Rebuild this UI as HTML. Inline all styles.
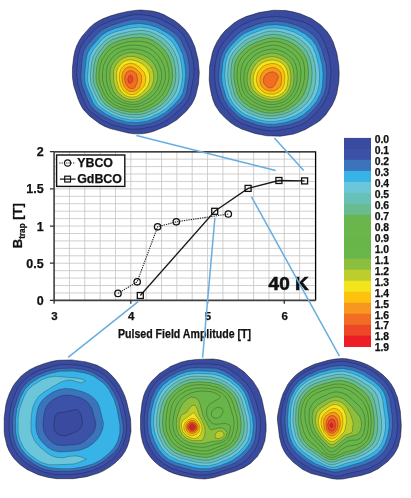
<!DOCTYPE html>
<html><head><meta charset="utf-8"><style>
html,body{margin:0;padding:0;background:#fff;width:411px;height:498px;overflow:hidden}
svg{display:block;will-change:transform}
text{font-family:"Liberation Sans",sans-serif;fill:#111;stroke:#111;stroke-width:0.25px}
</style></head><body>
<svg width="411" height="498" viewBox="0 0 411 498" font-family="Liberation Sans, sans-serif">
<rect width="411" height="498" fill="#fff"/>
<path d="M141.7 133.8 134.1 133.8 128.1 133.0 110.1 128.6 104.3 126.2 99.3 123.4 89.7 116.2 83.3 109.4 80.5 104.6 78.1 99.0 73.7 85.7 72.5 77.8 72.4 72.6 72.5 67.2 73.7 56.8 74.9 51.0 76.5 46.2 79.3 40.5 82.1 36.2 89.8 27.4 94.1 23.8 98.5 21.0 103.3 18.6 110.7 15.8 118.8 13.4 127.9 11.4 136.7 10.2 141.3 10.0 152.2 11.0 158.5 12.6 163.7 14.6 174.5 20.6 179.3 24.2 184.5 29.0 188.1 33.4 190.9 37.9 194.9 46.9 198.1 59.8 199.3 72.6 198.5 83.8 195.7 95.6 194.1 99.8 191.7 104.2 186.5 111.0 176.9 119.8 167.1 125.8 153.3 131.4 147.1 133.0 141.7 133.8Z" fill="#3a4a9e" fill-rule="evenodd" stroke="rgba(0,0,0,0.75)" stroke-width="0.6"/>
<path d="M139.7 129.0 133.7 129.2 128.1 128.8 112.1 124.7 102.5 120.1 91.7 112.6 88.2 109.0 85.8 105.4 80.5 93.0 77.7 83.8 76.7 73.0 78.0 57.0 79.9 49.0 81.9 45.0 84.5 41.0 94.1 30.2 97.4 27.4 101.3 25.0 111.7 20.6 127.3 16.0 133.3 14.9 138.5 14.5 149.7 15.7 159.7 18.6 170.9 24.6 176.1 28.1 180.1 31.5 182.8 34.6 185.1 38.2 190.6 50.6 193.0 59.8 194.1 70.2 193.5 77.4 190.3 94.2 187.9 100.2 184.1 105.4 171.0 117.4 163.3 122.6 158.5 124.8 152.5 126.8 139.7 129.0Z" fill="#3c52a8" fill-rule="evenodd" stroke="rgba(0,0,0,0.58)" stroke-width="0.42"/>
<path d="M139.3 125.4 133.3 125.7 128.5 125.4 116.5 122.4 106.5 118.0 99.7 114.0 94.9 110.6 90.6 105.8 87.4 99.4 82.2 85.8 81.2 81.0 80.8 75.4 82.2 57.4 83.7 51.0 87.3 44.9 97.3 33.7 102.9 29.2 110.9 25.5 126.1 20.7 131.7 19.5 136.9 19.0 146.9 20.0 157.7 23.0 168.1 28.4 176.7 34.6 180.9 40.2 186.6 52.6 188.5 60.2 189.7 70.6 189.2 77.4 186.7 92.2 184.8 97.4 181.7 101.8 168.1 114.2 160.7 119.4 150.5 123.4 139.3 125.4Z" fill="#3b74bb" fill-rule="evenodd" stroke="rgba(0,0,0,0.58)" stroke-width="0.42"/>
<path d="M136.9 122.6 126.9 121.9 115.7 118.8 106.5 114.4 97.3 108.0 94.6 105.0 92.8 102.2 86.6 87.8 85.0 81.8 84.6 75.0 86.3 58.2 87.7 52.8 91.0 47.4 100.9 36.1 106.9 31.7 114.9 28.4 129.3 24.5 139.3 23.5 148.5 24.7 157.3 27.5 167.3 33.1 171.3 35.9 174.1 38.5 178.6 45.4 182.8 54.6 184.9 65.0 185.7 74.6 184.5 85.4 182.5 93.4 179.6 98.6 173.7 105.0 165.7 112.2 157.3 117.2 146.9 121.2 136.9 122.6Z" fill="#38b3e7" fill-rule="evenodd" stroke="rgba(0,0,0,0.58)" stroke-width="0.42"/>
<path d="M140.9 119.8 130.5 119.9 120.1 117.7 110.9 114.0 101.1 107.8 97.2 103.8 94.3 98.6 88.8 85.8 87.8 81.4 87.5 77.0 88.8 62.2 90.5 55.0 94.2 48.6 102.1 39.3 107.8 35.0 115.3 31.8 128.5 28.4 139.3 27.1 147.7 27.9 155.7 30.4 164.5 35.4 171.3 41.0 175.8 47.4 179.5 55.4 181.4 63.8 182.5 74.2 181.9 82.6 180.1 90.6 177.4 96.2 173.3 101.4 166.4 108.2 159.7 112.8 149.3 117.7 140.9 119.8Z" fill="#6cc6d9" fill-rule="evenodd" stroke="rgba(0,0,0,0.58)" stroke-width="0.42"/>
<path d="M138.9 117.4 129.3 117.1 119.3 114.9 111.2 111.4 102.8 105.8 100.3 103.4 98.3 100.6 92.4 87.8 90.7 82.2 90.2 75.8 91.6 62.6 93.3 56.2 97.6 49.0 104.5 41.1 110.5 37.0 118.1 34.2 131.3 31.2 141.3 30.3 148.9 31.4 156.0 34.2 164.1 39.4 169.7 44.7 173.9 51.0 176.8 57.8 178.7 67.8 179.2 76.6 178.3 84.2 176.1 91.4 172.9 97.0 167.3 103.5 161.7 108.2 154.5 112.4 146.1 115.9 138.9 117.4Z" fill="#66c1b8" fill-rule="evenodd" stroke="rgba(0,0,0,0.58)" stroke-width="0.42"/>
<path d="M139.7 114.6 130.5 114.6 120.9 112.7 113.3 109.7 105.3 104.4 100.9 99.4 95.2 87.4 93.5 82.2 93.0 76.2 94.2 64.6 95.9 57.8 99.9 51.0 106.1 43.7 111.7 40.0 119.3 37.2 130.9 34.6 140.9 33.7 147.7 34.6 154.5 37.3 161.7 42.2 167.3 47.7 171.1 53.4 173.6 59.4 175.3 67.8 175.9 76.2 175.1 83.0 173.0 89.8 170.0 95.4 165.3 101.3 160.5 105.6 154.5 109.2 146.1 113.0 139.7 114.6Z" fill="#68bc90" fill-rule="evenodd" stroke="rgba(0,0,0,0.58)" stroke-width="0.42"/>
<path d="M138.1 112.2 129.7 112.0 120.5 110.0 113.7 107.0 106.9 102.3 103.1 97.8 97.7 86.2 96.2 81.0 95.9 75.4 97.1 65.4 98.9 59.0 102.9 52.2 108.2 46.2 113.7 42.7 122.1 39.8 131.3 37.9 140.5 37.4 146.9 38.3 152.9 40.6 159.3 45.0 164.8 50.6 168.3 55.8 170.6 61.4 172.2 69.4 172.6 76.6 171.7 83.0 169.5 89.4 166.5 95.0 162.3 100.2 157.6 104.2 151.3 107.8 144.1 110.9 138.1 112.2Z" fill="#69b54e" fill-rule="evenodd" stroke="rgba(0,0,0,0.58)" stroke-width="0.42"/>
<path d="M134.9 109.8 127.7 109.3 119.7 107.2 113.3 103.8 107.7 99.4 104.7 95.0 100.1 84.2 99.0 79.0 99.1 72.6 100.2 65.0 102.3 59.4 106.7 52.6 111.3 48.1 117.0 45.0 125.3 42.4 132.9 41.3 141.3 41.3 147.3 42.5 152.5 44.8 158.1 49.0 162.4 53.8 165.6 59.0 167.6 64.2 169.0 71.4 169.1 77.8 167.9 83.4 165.1 90.2 162.1 95.0 158.1 99.5 152.9 103.4 145.7 107.1 140.1 109.1 134.9 109.8Z" fill="#6ab64b" fill-rule="evenodd" stroke="rgba(0,0,0,0.58)" stroke-width="0.42"/>
<path d="M136.1 107.0 130.1 106.9 122.9 105.4 117.4 103.0 111.7 99.2 108.9 96.3 107.0 93.0 103.7 85.0 102.5 79.4 102.4 73.0 103.5 65.8 105.4 61.0 108.7 55.8 112.5 51.8 116.5 49.1 122.9 46.6 128.9 45.3 135.7 45.1 142.9 46.0 148.1 47.6 152.5 50.2 157.3 54.6 161.3 60.0 163.9 65.8 165.4 72.6 165.4 77.8 164.4 82.6 161.4 89.8 158.1 94.6 153.7 98.9 148.8 102.2 141.7 105.6 136.1 107.0Z" fill="#68b54a" fill-rule="evenodd" stroke="rgba(0,0,0,0.58)" stroke-width="0.42"/>
<path d="M133.7 104.6 128.1 104.1 122.9 102.6 118.2 100.2 113.3 96.5 110.8 93.4 108.7 88.6 107.0 83.4 106.3 78.2 106.4 71.8 107.2 66.6 109.1 62.2 112.1 57.9 115.7 54.4 119.7 51.9 124.9 49.9 130.1 49.0 136.1 49.2 142.5 50.4 147.3 52.2 151.3 54.8 155.6 59.0 158.5 63.4 160.8 69.0 161.8 74.6 161.5 79.4 159.9 84.6 157.5 89.8 154.1 94.1 149.4 98.2 142.7 102.2 138.1 104.0 133.7 104.6Z" fill="#6ab64a" fill-rule="evenodd" stroke="rgba(0,0,0,0.58)" stroke-width="0.42"/>
<path d="M135.7 101.9 130.9 102.1 126.1 101.2 122.1 99.4 117.5 96.2 115.0 93.8 113.3 91.1 111.3 85.8 110.3 81.4 109.9 75.8 110.2 70.2 111.1 66.6 113.0 63.0 116.1 59.1 119.3 56.4 123.7 54.1 128.5 52.8 132.9 52.6 138.1 53.4 143.3 55.1 147.5 57.4 151.3 60.6 154.2 64.2 156.4 68.6 157.6 73.0 157.8 77.0 157.2 81.0 155.2 86.6 153.1 90.2 149.3 94.2 145.3 97.2 140.1 100.3 135.7 101.9Z" fill="#8dbf3e" fill-rule="evenodd" stroke="rgba(0,0,0,0.58)" stroke-width="0.42"/>
<path d="M134.9 99.4 130.9 99.6 126.9 98.8 123.7 97.3 120.2 94.6 117.9 92.2 116.4 89.8 114.6 85.0 113.7 81.0 113.5 71.8 114.2 68.6 115.7 65.4 118.1 62.1 121.2 59.4 124.9 57.4 128.5 56.4 132.5 56.4 136.5 57.1 141.3 58.9 145.1 61.0 148.5 63.8 150.9 66.7 152.7 70.2 153.6 73.8 153.8 77.8 153.4 81.4 151.9 85.8 150.4 88.6 146.9 92.4 142.5 95.8 138.5 98.2 134.9 99.4Z" fill="#bccd2d" fill-rule="evenodd" stroke="rgba(0,0,0,0.58)" stroke-width="0.42"/>
<path d="M134.1 97.0 130.9 97.1 127.7 96.4 125.3 95.3 122.4 93.0 119.2 88.6 116.8 80.6 116.6 73.0 117.2 70.2 118.4 67.4 120.5 64.5 122.9 62.3 125.7 60.8 128.5 60.0 131.7 59.9 135.3 60.7 138.9 62.1 142.5 64.2 145.4 66.6 147.3 68.9 148.8 71.8 149.5 74.6 149.8 78.2 149.4 81.4 148.3 85.0 147.0 87.4 143.9 91.0 139.3 95.0 136.9 96.2 134.1 97.0Z" fill="#f2e51b" fill-rule="evenodd" stroke="rgba(0,0,0,0.58)" stroke-width="0.42"/>
<path d="M132.9 94.6 130.5 94.6 128.1 94.0 123.7 90.8 121.2 86.6 119.4 80.2 119.3 73.8 120.9 69.2 122.5 66.9 124.5 65.1 128.9 63.4 131.7 63.4 134.5 64.0 139.3 66.9 144.0 72.2 145.7 77.0 145.5 82.2 144.6 85.0 143.4 87.0 137.9 92.6 135.3 94.0 132.9 94.6Z" fill="#fdc10e" fill-rule="evenodd" stroke="rgba(0,0,0,0.58)" stroke-width="0.42"/>
<path d="M133.7 91.5 129.7 91.5 126.5 89.7 124.1 86.6 122.2 81.4 121.9 75.8 122.8 71.8 125.3 68.4 128.5 66.8 132.1 67.0 135.7 68.8 139.3 72.0 141.7 75.8 141.5 81.8 139.4 87.8 136.7 90.2 133.7 91.5Z" fill="#f7971f" fill-rule="evenodd" stroke="rgba(0,0,0,0.58)" stroke-width="0.42"/>
<path d="M133.3 88.6 130.5 88.6 128.1 87.3 126.3 85.0 125.0 81.8 124.6 78.2 125.1 75.0 126.7 72.2 128.9 70.8 131.3 70.7 133.7 71.7 136.4 73.8 136.9 75.4 137.5 79.4 137.2 82.6 135.2 87.0 134.4 88.2 133.3 88.6Z" fill="#f26c23" fill-rule="evenodd" stroke="rgba(0,0,0,0.58)" stroke-width="0.42"/>
<path d="M130.9 83.1 129.7 83.2 128.5 82.4 127.9 79.4 128.6 76.6 129.7 75.5 130.9 75.2 132.1 76.5 132.7 79.4 132.2 81.8 130.9 83.1Z" fill="#ed4727" fill-rule="evenodd" stroke="rgba(0,0,0,0.58)" stroke-width="0.42"/>
<path d="M280.4 136.2 266.7 135.8 254.7 133.4 241.6 129.0 235.2 125.8 230.4 122.5 225.0 117.8 220.0 112.6 215.2 105.4 213.2 100.6 211.6 95.0 210.0 87.0 209.2 80.2 209.6 66.0 212.4 52.6 214.4 47.1 217.2 41.4 221.2 35.3 225.2 30.6 234.0 23.0 239.2 19.8 246.0 16.6 259.0 12.6 273.6 10.2 286.0 10.6 292.8 11.8 300.3 13.8 311.6 18.6 320.8 25.0 327.2 31.8 330.4 36.6 333.2 42.1 336.8 53.0 338.8 65.2 339.2 73.8 338.8 82.2 336.8 93.4 334.8 99.4 332.0 105.4 325.6 115.0 320.4 120.2 317.2 122.6 305.5 129.4 298.0 132.6 292.8 134.2 280.4 136.2Z" fill="#3a4a9e" fill-rule="evenodd" stroke="rgba(0,0,0,0.75)" stroke-width="0.6"/>
<path d="M276.4 130.6 271.6 130.9 266.4 130.6 253.6 127.7 241.9 123.4 237.6 120.9 233.6 117.7 223.8 107.0 219.4 99.8 217.3 93.8 215.7 87.4 214.9 81.0 214.6 73.8 214.9 67.4 215.7 61.4 217.4 54.6 219.2 49.4 224.0 41.7 233.7 31.0 237.6 27.8 242.0 25.0 253.6 20.0 264.0 17.4 276.4 16.5 286.0 17.5 303.2 21.9 310.0 25.2 316.6 30.6 319.6 34.0 322.1 37.8 326.8 48.2 329.8 60.2 331.0 71.4 329.9 85.8 328.1 93.8 323.6 103.4 317.1 111.8 307.4 121.0 301.2 124.8 291.6 127.9 276.4 130.6Z" fill="#3c52a8" fill-rule="evenodd" stroke="rgba(0,0,0,0.58)" stroke-width="0.42"/>
<path d="M276.4 127.0 267.2 127.1 257.6 125.2 244.0 120.3 240.0 118.1 236.5 115.4 227.9 106.2 223.7 99.4 219.8 87.0 218.8 81.4 218.5 75.8 219.7 62.6 221.0 57.0 222.7 52.2 227.2 44.9 236.4 35.2 240.4 31.9 244.4 29.4 256.4 24.4 265.6 22.0 276.4 21.1 286.4 22.3 298.4 25.8 306.8 30.0 314.0 35.8 318.5 41.8 322.1 49.8 325.8 63.4 326.8 73.0 326.0 86.5 324.4 93.4 320.2 101.8 314.0 109.5 306.0 117.3 299.6 121.3 289.2 124.8 276.4 127.0Z" fill="#3b74bb" fill-rule="evenodd" stroke="rgba(0,0,0,0.58)" stroke-width="0.42"/>
<path d="M274.4 124.2 265.6 123.9 256.8 121.9 244.4 117.2 240.8 115.0 237.6 112.4 230.1 104.2 226.4 97.8 222.7 85.4 221.9 80.2 221.7 75.0 222.9 62.2 225.4 53.8 229.8 47.0 238.0 38.4 242.0 35.1 245.6 32.8 258.4 27.5 266.8 25.3 276.0 24.7 286.4 26.1 296.4 29.2 304.8 33.8 312.0 39.8 316.2 45.8 319.3 53.8 322.4 65.8 323.1 75.4 322.4 86.6 320.7 93.4 316.5 101.4 310.4 108.7 303.2 115.0 296.4 118.8 285.6 122.4 274.4 124.2Z" fill="#38b3e7" fill-rule="evenodd" stroke="rgba(0,0,0,0.58)" stroke-width="0.42"/>
<path d="M274.8 121.4 266.8 121.4 258.8 119.7 246.4 115.1 242.8 113.0 239.7 110.6 233.0 103.4 229.4 97.4 225.7 85.4 224.7 76.2 225.5 64.2 227.4 56.6 231.0 50.2 237.9 42.6 244.0 37.5 250.8 34.0 264.0 29.1 268.8 28.2 274.0 27.8 283.2 28.8 294.0 32.0 301.6 36.1 308.9 42.2 312.9 47.4 315.8 54.2 318.7 65.4 319.6 74.6 319.1 84.6 317.5 91.8 314.2 99.0 309.2 105.4 302.0 111.8 294.8 116.0 284.8 119.6 274.8 121.4Z" fill="#6cc6d9" fill-rule="evenodd" stroke="rgba(0,0,0,0.58)" stroke-width="0.42"/>
<path d="M274.8 118.6 266.8 118.7 259.2 117.0 247.6 112.6 241.2 108.2 235.5 102.2 232.2 96.6 228.7 84.6 227.6 76.2 228.3 65.4 229.9 58.2 233.2 52.2 238.9 45.8 244.8 40.6 250.8 37.4 264.0 32.4 268.4 31.4 273.2 31.0 281.2 31.8 292.2 35.0 299.2 38.8 306.0 44.5 309.8 49.4 312.7 55.8 315.0 65.0 315.9 73.8 315.4 83.0 313.8 90.6 310.9 97.4 306.8 103.0 300.0 109.1 292.4 113.7 284.0 116.9 274.8 118.6Z" fill="#66c1b8" fill-rule="evenodd" stroke="rgba(0,0,0,0.58)" stroke-width="0.42"/>
<path d="M274.4 115.8 266.8 115.8 259.2 114.1 248.6 109.8 242.0 105.0 237.3 99.8 234.7 95.0 231.7 83.8 230.8 75.4 231.3 65.4 232.9 59.0 236.0 53.6 241.6 47.5 246.8 43.2 252.6 40.2 265.2 35.5 273.2 34.3 280.4 35.1 290.0 38.0 296.4 41.4 302.8 46.7 306.8 51.6 309.5 57.4 311.4 65.0 312.1 73.0 311.6 81.4 309.9 89.4 307.2 96.1 303.5 101.4 297.3 107.0 290.0 111.5 282.8 114.3 274.4 115.8Z" fill="#68bc90" fill-rule="evenodd" stroke="rgba(0,0,0,0.58)" stroke-width="0.42"/>
<path d="M274.8 113.0 267.2 113.1 260.4 111.5 250.4 107.3 243.7 102.6 239.7 98.2 237.3 93.4 234.7 83.4 233.9 75.8 234.3 67.0 235.7 61.0 238.5 55.8 243.5 50.2 248.8 45.9 254.4 43.0 265.6 39.0 273.2 37.7 279.6 38.4 287.8 41.0 294.0 44.3 299.6 48.8 303.5 53.4 306.2 58.6 307.8 64.6 308.5 71.8 308.0 79.8 306.3 87.8 303.6 94.5 300.1 99.8 294.7 105.0 288.4 109.1 282.4 111.5 274.8 113.0Z" fill="#69b54e" fill-rule="evenodd" stroke="rgba(0,0,0,0.58)" stroke-width="0.42"/>
<path d="M274.4 110.2 267.6 110.2 260.8 108.5 251.8 104.6 245.3 99.8 242.0 96.1 239.9 91.8 237.8 83.4 237.0 76.2 237.5 68.2 238.8 62.6 241.4 57.8 246.1 52.6 251.2 48.5 257.2 45.5 266.8 42.2 273.6 41.2 279.2 41.9 286.0 44.2 291.7 47.4 296.8 51.5 300.4 55.7 302.8 60.3 304.2 65.4 304.7 71.8 304.3 79.4 302.7 86.6 300.1 93.0 296.5 98.6 292.0 103.1 286.4 106.9 281.0 109.0 274.4 110.2Z" fill="#6ab64b" fill-rule="evenodd" stroke="rgba(0,0,0,0.58)" stroke-width="0.42"/>
<path d="M273.6 107.4 267.2 107.2 261.2 105.5 253.6 101.9 247.5 97.4 244.6 94.2 242.7 90.2 241.0 83.4 240.4 77.0 241.0 69.8 242.4 64.2 244.9 59.8 249.2 55.0 254.0 51.1 259.6 48.4 267.2 45.9 273.6 45.0 278.8 45.8 284.8 48.0 290.0 51.1 294.4 54.9 297.3 58.6 299.5 63.0 300.6 67.8 301.0 73.4 300.5 80.2 299.1 86.6 296.7 92.2 293.4 97.4 289.3 101.4 284.4 104.6 279.6 106.4 273.6 107.4Z" fill="#68b54a" fill-rule="evenodd" stroke="rgba(0,0,0,0.58)" stroke-width="0.42"/>
<path d="M273.2 104.6 267.6 104.3 261.6 102.5 255.6 99.5 250.1 95.4 247.6 92.6 245.7 89.0 244.3 83.4 243.8 78.2 244.4 71.8 245.8 66.6 248.2 62.2 252.3 57.4 256.4 54.1 261.2 51.6 267.6 49.7 273.2 49.1 277.6 49.7 283.2 51.8 287.7 54.6 291.7 58.2 294.3 61.8 295.9 65.4 296.9 69.8 297.3 75.8 296.8 81.8 295.8 86.6 293.5 91.8 290.8 95.9 287.6 99.0 282.8 102.1 278.4 103.7 273.2 104.6Z" fill="#6ab64a" fill-rule="evenodd" stroke="rgba(0,0,0,0.58)" stroke-width="0.42"/>
<path d="M274.8 101.8 270.0 101.9 265.6 101.1 260.0 98.9 255.6 96.2 251.6 92.6 249.6 89.8 247.9 85.4 247.1 80.6 247.3 75.4 248.6 69.8 250.7 65.4 253.6 61.4 257.2 58.1 261.2 55.7 266.0 54.0 271.2 53.1 275.2 53.3 279.6 54.5 284.0 56.6 287.6 59.3 290.2 62.2 292.0 65.4 293.3 69.4 293.9 73.8 294.0 79.4 293.3 84.6 291.8 89.0 289.6 93.1 286.9 96.2 283.1 99.0 279.2 100.8 274.8 101.8Z" fill="#8dbf3e" fill-rule="evenodd" stroke="rgba(0,0,0,0.58)" stroke-width="0.42"/>
<path d="M274.4 99.4 270.4 99.5 266.4 98.7 261.6 96.9 258.0 94.7 254.4 91.5 252.4 89.0 251.0 85.4 250.2 81.0 250.4 76.2 251.5 71.4 253.3 67.4 255.9 63.8 258.9 61.0 262.4 58.9 266.4 57.4 271.2 56.6 274.8 56.8 278.8 57.9 282.4 59.6 285.3 61.8 287.6 64.3 289.3 67.4 290.3 71.0 290.9 75.0 290.9 80.2 290.3 84.6 289.2 88.2 287.3 91.8 284.8 94.6 281.6 96.9 278.0 98.5 274.4 99.4Z" fill="#bccd2d" fill-rule="evenodd" stroke="rgba(0,0,0,0.58)" stroke-width="0.42"/>
<path d="M273.2 97.0 270.0 97.0 266.4 96.2 262.4 94.6 259.2 92.4 256.4 89.8 254.9 87.4 253.6 83.8 253.1 80.2 253.4 76.2 254.5 72.2 256.1 69.0 258.5 65.8 261.2 63.4 264.4 61.7 268.0 60.5 272.0 60.0 275.2 60.3 278.8 61.4 281.6 62.9 284.0 65.0 285.7 67.4 287.0 70.2 288.1 77.4 287.4 85.0 286.2 88.2 284.6 91.0 282.4 93.2 279.2 95.3 276.4 96.4 273.2 97.0Z" fill="#f2e51b" fill-rule="evenodd" stroke="rgba(0,0,0,0.58)" stroke-width="0.42"/>
<path d="M274.0 94.2 268.4 94.0 264.8 92.8 262.0 91.2 258.1 87.0 256.3 81.0 256.4 77.8 257.2 74.2 258.5 71.4 260.5 68.6 262.6 66.6 265.3 65.0 271.6 63.3 276.8 64.1 280.9 66.6 283.7 70.6 284.8 75.8 284.5 83.4 282.6 88.6 280.9 90.6 278.8 92.2 274.0 94.2Z" fill="#fdc10e" fill-rule="evenodd" stroke="rgba(0,0,0,0.58)" stroke-width="0.42"/>
<path d="M274.0 91.0 269.2 91.1 264.4 89.2 261.2 85.8 259.9 81.4 260.4 76.2 262.8 72.0 266.5 69.0 271.6 67.4 275.2 67.8 278.6 69.8 280.7 72.6 281.7 76.6 281.6 82.2 280.3 86.2 277.9 89.0 274.0 91.0Z" fill="#f7971f" fill-rule="evenodd" stroke="rgba(0,0,0,0.58)" stroke-width="0.42"/>
<path d="M271.6 87.8 268.6 87.8 266.0 86.1 263.6 82.9 263.4 79.8 264.2 76.6 266.1 74.2 269.2 72.4 272.4 71.8 274.4 72.2 276.4 73.4 277.9 75.4 278.4 77.4 275.2 84.6 273.2 86.8 271.6 87.8Z" fill="#f26c23" fill-rule="evenodd" stroke="rgba(0,0,0,0.58)" stroke-width="0.42"/>
<path d="M73.4 478.7 57.0 478.7 48.5 477.5 38.2 474.7 27.0 469.5 20.2 464.7 14.2 458.7 11.8 455.5 9.0 450.7 7.0 445.9 4.6 435.6 4.2 431.5 4.2 418.1 5.8 405.3 7.0 400.3 9.4 393.5 13.0 386.3 15.4 382.7 21.0 376.3 25.3 372.7 30.2 369.5 35.8 366.7 43.2 363.9 51.4 361.5 57.7 360.3 71.5 359.9 86.1 361.9 96.6 365.1 102.2 367.9 107.0 371.1 111.4 375.1 115.8 379.9 119.4 385.1 122.2 390.2 124.6 395.5 126.6 401.6 130.6 418.9 131.0 431.2 129.0 441.6 127.4 446.4 125.0 451.5 121.4 456.7 119.0 459.3 115.0 463.1 109.7 467.1 103.0 471.1 98.5 473.1 86.7 476.7 73.4 478.7Z" fill="#3a4a9e" fill-rule="evenodd" stroke="rgba(0,0,0,0.75)" stroke-width="0.6"/>
<path d="M68.2 474.7 55.4 474.4 44.2 472.2 33.8 468.0 24.6 462.0 17.7 455.1 12.9 447.1 10.0 437.9 8.9 427.1 9.5 413.9 12.1 401.5 16.6 390.3 19.3 385.9 22.5 381.9 26.2 378.4 30.6 375.1 40.2 370.1 53.8 366.0 59.8 364.9 65.8 364.5 79.0 365.3 90.6 367.9 100.4 372.3 104.6 375.2 108.2 378.4 115.1 387.1 118.3 392.7 120.7 397.9 122.8 404.3 125.0 413.5 126.3 420.3 126.8 426.3 125.9 435.9 122.5 446.3 118.2 453.4 111.8 459.7 102.6 466.2 93.0 470.5 82.2 473.2 68.2 474.7ZM66.6 435.5 77.0 431.4 80.2 428.8 81.7 426.3 82.5 422.3 81.5 415.9 79.8 411.9 77.4 409.9 74.6 409.6 66.6 411.7 59.0 412.6 57.0 413.6 55.4 415.8 54.6 418.7 53.8 425.5 54.1 428.7 55.1 431.5 57.0 433.7 59.8 435.3 63.4 435.9 66.6 435.5Z" fill="#3c52a8" fill-rule="evenodd" stroke="rgba(0,0,0,0.58)" stroke-width="0.42"/>
<path d="M68.6 471.5 54.6 471.3 44.6 469.4 39.8 467.6 35.0 465.1 25.2 457.9 19.0 450.9 16.6 446.7 14.8 442.3 12.6 432.7 12.3 420.7 13.8 409.1 17.6 397.1 21.8 388.3 27.4 382.0 31.8 378.6 37.0 375.4 47.4 371.2 59.0 368.6 72.6 368.1 83.4 369.4 92.4 372.3 102.1 377.9 108.4 383.9 114.4 393.1 118.6 402.6 122.6 420.7 123.5 430.3 121.9 439.1 118.3 447.5 113.8 453.0 104.9 460.3 97.9 464.7 89.4 468.1 79.0 470.4 68.6 471.5ZM62.7 445.5 75.2 444.7 79.0 443.9 82.2 442.6 85.8 440.2 91.3 435.1 93.5 432.3 95.1 428.7 95.8 425.5 95.7 422.7 92.5 410.3 91.2 407.1 89.1 403.9 86.2 401.1 83.0 399.0 79.0 397.3 72.6 395.7 67.8 395.1 63.8 395.3 59.4 396.5 54.6 398.7 50.2 401.9 47.0 405.5 45.1 409.5 43.7 415.9 43.0 424.7 43.5 429.5 45.0 433.9 48.2 438.8 53.0 443.1 57.4 445.0 62.7 445.5Z" fill="#3b74bb" fill-rule="evenodd" stroke="rgba(0,0,0,0.58)" stroke-width="0.42"/>
<path d="M71.0 468.7 59.0 468.7 49.0 467.5 41.4 465.1 34.1 461.1 26.6 455.2 21.2 448.7 17.6 441.1 15.7 432.3 15.5 419.9 16.8 409.1 20.3 397.9 25.0 389.1 31.0 382.9 39.8 377.3 49.8 373.4 60.2 371.3 73.0 371.1 85.0 373.0 89.8 374.5 94.2 376.6 102.9 382.7 106.2 386.1 109.0 389.8 114.1 399.5 117.0 409.1 119.8 424.3 119.9 432.7 117.8 441.1 114.2 447.7 108.3 453.9 100.8 459.9 93.0 463.9 82.2 467.1 71.0 468.7ZM68.9 451.5 77.4 450.7 83.0 449.3 88.2 446.9 93.4 443.2 97.5 439.1 100.3 434.7 102.9 428.3 103.4 423.1 99.2 405.9 97.0 401.7 93.6 397.9 88.6 394.3 82.6 391.7 72.2 389.0 65.4 388.4 59.0 389.6 52.6 392.3 46.2 396.5 41.6 401.1 39.0 405.4 37.3 410.3 36.0 419.1 35.8 426.7 36.8 432.7 39.0 437.9 42.6 442.7 47.8 447.4 52.2 450.0 56.6 451.5 61.4 451.9 68.9 451.5Z" fill="#38b3e7" fill-rule="evenodd" stroke="rgba(0,0,0,0.58)" stroke-width="0.42"/>
<path d="M58.2 464.7 48.6 464.7 41.8 462.6 37.0 459.8 31.0 455.4 27.0 451.7 23.9 447.9 20.0 440.3 18.1 431.9 18.1 418.7 19.4 409.1 24.0 396.7 27.5 390.3 32.6 385.5 42.2 379.6 48.6 377.2 55.4 376.3 75.4 378.0 80.6 378.9 84.5 380.3 85.3 380.7 85.3 381.1 82.2 382.6 80.6 382.8 72.2 380.2 67.0 380.1 61.0 382.1 52.6 386.7 43.4 392.5 38.8 396.3 35.0 401.7 32.6 407.9 31.6 413.9 30.9 421.9 31.1 430.7 32.3 435.5 34.0 439.5 36.4 443.1 39.8 446.9 47.8 453.6 51.8 455.8 55.8 457.2 62.2 457.9 69.9 456.3 76.2 455.9 80.3 456.7 86.5 459.1 77.8 462.7 73.4 464.0 58.2 464.7Z" fill="#6cc6d9" fill-rule="evenodd" stroke="rgba(0,0,0,0.58)" stroke-width="0.42"/>
<path d="M204.9 479.0 197.3 478.6 191.9 477.8 180.5 475.4 173.8 473.4 168.9 471.4 163.6 468.6 158.9 465.4 154.3 461.4 151.3 458.2 147.7 453.3 144.9 448.3 142.9 443.1 141.3 436.3 140.5 429.1 140.5 416.0 142.1 402.5 143.7 395.8 145.3 391.4 148.5 385.4 151.7 381.0 159.6 373.4 171.0 366.2 180.9 362.2 187.7 360.6 196.6 359.4 213.0 359.0 218.9 359.8 225.2 361.4 230.5 363.4 236.1 366.2 244.1 371.8 252.9 381.0 258.5 389.9 261.7 398.5 265.3 415.5 266.1 423.7 266.1 430.6 264.9 440.6 262.1 448.7 257.3 456.6 250.5 463.4 244.2 467.4 235.7 471.0 213.4 477.8 204.9 479.0Z" fill="#3a4a9e" fill-rule="evenodd" stroke="rgba(0,0,0,0.75)" stroke-width="0.6"/>
<path d="M204.9 475.0 194.9 474.6 183.3 472.0 171.3 468.1 163.3 463.6 156.2 457.4 150.3 449.4 146.6 441.4 144.5 431.8 144.1 418.6 145.4 407.0 148.7 394.6 150.6 390.2 153.3 385.8 156.5 381.9 160.0 378.6 169.3 372.3 181.3 366.8 186.5 365.2 191.7 364.3 198.9 363.9 210.1 364.0 219.3 364.9 223.7 366.3 228.1 368.5 238.1 375.5 246.1 383.0 249.1 387.0 252.4 392.6 255.6 400.6 259.2 413.4 260.3 419.0 260.3 430.2 259.4 437.4 258.2 442.6 256.7 446.6 254.5 450.6 248.1 458.5 242.0 463.4 233.7 467.4 214.5 473.5 204.9 475.0Z" fill="#3c52a8" fill-rule="evenodd" stroke="rgba(0,0,0,0.58)" stroke-width="0.42"/>
<path d="M208.9 471.4 200.5 471.7 192.9 470.7 175.3 465.8 167.3 462.1 160.8 457.0 155.6 450.6 150.9 441.8 148.3 433.4 147.4 423.0 148.1 411.4 151.5 397.8 155.3 389.4 160.5 382.9 168.1 377.1 178.5 371.6 188.5 368.3 198.1 367.6 216.5 368.3 224.1 370.9 232.9 376.4 242.1 384.2 247.3 391.3 250.6 399.0 255.9 417.4 256.6 426.6 255.2 439.0 252.6 445.8 248.1 451.9 241.6 458.6 235.3 462.7 228.5 465.6 218.5 469.1 208.9 471.4Z" fill="#3b74bb" fill-rule="evenodd" stroke="rgba(0,0,0,0.58)" stroke-width="0.42"/>
<path d="M209.3 468.6 201.7 468.7 194.5 467.7 176.5 462.8 168.9 459.4 163.4 455.0 158.8 449.4 154.1 440.3 151.5 432.6 150.5 423.0 151.2 411.8 154.2 399.8 158.0 391.4 162.6 385.4 169.6 379.8 178.5 374.8 187.3 371.7 196.9 370.8 214.5 371.5 222.5 373.9 230.9 378.6 239.5 385.8 244.7 392.6 247.6 399.4 252.3 416.2 253.3 425.4 252.5 435.8 250.5 442.4 246.7 448.2 240.1 455.0 232.7 460.2 226.9 463.0 218.5 466.2 209.3 468.6Z" fill="#38b3e7" fill-rule="evenodd" stroke="rgba(0,0,0,0.58)" stroke-width="0.42"/>
<path d="M208.5 465.8 201.3 465.6 193.7 464.2 178.9 460.5 170.9 456.9 165.7 452.8 161.3 447.4 157.2 439.4 154.6 431.8 153.6 423.4 154.2 412.6 156.6 402.2 160.1 394.1 164.7 387.8 171.2 382.2 179.2 377.4 187.3 374.5 197.3 373.5 212.9 374.2 220.9 376.4 229.3 380.9 237.2 387.4 242.2 393.8 245.0 400.2 249.4 416.2 250.5 425.0 249.8 434.6 247.9 441.0 244.1 446.7 237.7 453.2 230.9 457.7 216.5 463.9 208.5 465.8Z" fill="#6cc6d9" fill-rule="evenodd" stroke="rgba(0,0,0,0.58)" stroke-width="0.42"/>
<path d="M209.7 463.0 203.3 463.1 195.3 461.8 180.9 458.3 173.3 455.1 168.5 451.6 164.4 447.0 160.6 440.2 157.7 432.6 156.5 424.6 156.9 413.8 158.8 404.6 161.8 397.0 166.1 390.6 171.7 385.2 178.9 380.5 186.5 377.5 191.3 376.5 196.5 376.2 210.9 376.8 219.3 379.0 227.3 383.0 234.8 389.0 239.6 395.0 242.0 400.6 246.1 415.4 247.4 423.4 247.1 432.6 245.4 439.0 242.0 444.6 236.9 450.2 230.5 454.7 216.9 460.9 209.7 463.0Z" fill="#66c1b8" fill-rule="evenodd" stroke="rgba(0,0,0,0.58)" stroke-width="0.42"/>
<path d="M209.3 460.2 202.9 460.3 194.5 458.9 182.9 456.1 175.3 453.0 170.5 449.5 166.8 445.4 163.1 439.0 160.5 432.2 159.4 425.0 159.8 414.6 161.4 405.8 164.1 398.9 168.3 392.6 173.7 387.4 180.3 383.0 186.9 380.3 194.5 379.1 205.3 379.2 213.3 380.3 220.5 382.7 227.3 386.4 233.6 391.8 237.4 397.0 239.7 403.0 243.4 416.6 244.3 423.4 243.8 432.6 241.5 439.4 236.9 445.9 230.9 451.0 225.7 453.9 217.0 457.8 209.3 460.2Z" fill="#68bc90" fill-rule="evenodd" stroke="rgba(0,0,0,0.58)" stroke-width="0.42"/>
<path d="M206.9 457.4 200.1 457.0 188.1 454.6 181.5 452.6 176.1 449.9 171.8 446.6 168.6 442.6 165.2 436.2 163.2 430.2 162.5 423.0 163.4 412.6 164.9 405.4 167.4 399.4 171.5 393.8 176.9 388.8 183.3 384.9 189.7 382.7 198.5 381.8 210.1 382.6 218.1 384.6 225.3 388.2 231.0 393.0 234.8 398.2 236.9 403.3 240.3 416.2 241.2 423.8 240.7 431.4 238.6 437.8 235.0 443.4 231.3 447.1 226.1 450.3 212.9 456.0 206.9 457.4Z" fill="#69b54e" fill-rule="evenodd" stroke="rgba(0,0,0,0.58)" stroke-width="0.42"/>
<path d="M206.5 454.2 200.5 454.0 190.1 452.0 183.9 450.2 178.5 447.5 174.5 444.5 171.2 440.6 168.1 435.0 166.4 429.8 165.8 423.4 166.7 413.4 168.1 406.2 170.3 400.6 174.2 395.4 179.3 390.9 185.3 387.5 191.7 385.3 200.1 384.5 209.7 385.5 217.7 387.7 224.1 391.0 228.5 395.0 231.6 399.8 233.3 404.2 237.0 417.4 237.7 424.2 237.2 430.6 235.1 437.4 232.4 441.8 229.1 445.0 224.9 447.5 211.3 453.1 206.5 454.2Z" fill="#6ab64b" fill-rule="evenodd" stroke="rgba(0,0,0,0.58)" stroke-width="0.42"/>
<path d="M205.7 451.0 200.1 450.9 191.3 449.3 185.7 447.6 180.9 445.2 176.9 442.2 173.8 438.6 171.2 433.8 169.7 429.0 169.2 422.6 170.1 413.8 171.5 406.6 173.6 401.4 176.9 397.2 181.7 393.4 187.3 390.4 193.3 388.5 200.9 387.9 209.7 388.6 216.5 390.3 221.7 393.1 225.4 396.6 228.1 401.0 229.9 405.8 233.5 417.8 234.1 423.8 233.5 429.8 231.5 436.6 228.9 440.9 226.2 443.4 222.9 445.2 210.1 450.1 205.7 451.0ZM217.4 418.2 220.5 416.6 222.9 412.6 222.9 409.6 222.0 408.6 220.5 407.8 217.3 407.5 215.5 408.2 212.9 410.1 211.5 412.6 211.4 415.0 212.9 417.3 214.9 418.3 217.4 418.2Z" fill="#68b54a" fill-rule="evenodd" stroke="rgba(0,0,0,0.58)" stroke-width="0.42"/>
<path d="M206.1 447.0 200.9 447.3 193.7 446.6 188.5 445.3 183.7 443.1 179.7 440.2 176.8 437.0 174.4 432.6 173.2 428.2 172.8 423.0 173.6 416.2 175.5 408.2 177.7 403.2 180.9 399.3 185.3 395.8 190.5 393.2 196.1 391.6 203.7 391.0 210.9 391.6 216.4 393.4 220.5 396.2 220.0 397.4 218.3 399.0 210.2 403.8 208.1 406.2 207.0 408.6 206.5 411.0 207.0 416.2 209.6 421.0 212.9 423.7 216.1 424.3 225.3 423.4 228.1 424.3 230.5 426.2 230.1 430.6 229.0 435.0 227.5 438.2 225.3 440.6 221.3 442.8 214.5 444.3 206.1 447.0Z" fill="#6ab64a" fill-rule="evenodd" stroke="rgba(0,0,0,0.58)" stroke-width="0.42"/>
<path d="M199.3 443.8 190.9 442.8 187.3 441.5 184.1 439.6 181.4 437.4 179.2 434.6 177.6 431.4 176.6 427.8 176.3 423.4 176.8 418.6 178.2 413.4 180.4 407.8 182.1 404.6 184.7 401.4 187.7 398.8 190.9 396.9 195.7 398.0 198.6 400.6 199.8 403.4 203.1 416.2 209.7 428.8 210.9 429.6 212.1 429.8 218.1 428.0 221.7 427.9 224.9 429.4 227.1 432.2 226.7 434.6 225.6 437.0 223.7 439.0 221.7 440.2 218.9 440.9 212.5 441.3 204.5 443.4 199.3 443.8Z" fill="#8dbf3e" fill-rule="evenodd" stroke="rgba(0,0,0,0.58)" stroke-width="0.42"/>
<path d="M200.5 440.6 193.3 440.7 190.1 439.9 186.9 438.4 184.3 436.6 182.1 434.2 180.5 431.4 179.4 428.2 179.2 422.2 180.9 415.9 181.3 415.2 186.8 412.2 190.8 406.6 192.9 405.2 194.9 405.5 196.5 407.1 199.5 415.8 203.1 422.6 204.4 426.2 205.1 431.0 204.5 435.8 202.6 440.2 200.5 440.6ZM218.9 438.6 215.8 438.2 215.1 436.6 215.2 434.6 216.0 433.0 217.7 431.6 219.7 431.0 221.3 431.2 223.3 432.6 224.2 435.0 222.1 437.5 218.9 438.6Z" fill="#bccd2d" fill-rule="evenodd" stroke="rgba(0,0,0,0.58)" stroke-width="0.42"/>
<path d="M196.1 438.2 194.9 438.5 191.3 438.0 186.5 435.7 183.0 431.8 181.4 426.6 181.5 423.0 183.3 420.2 193.3 412.8 194.5 413.6 200.1 421.8 201.4 424.6 202.0 427.4 201.9 430.6 200.8 433.8 198.9 436.4 196.1 438.2Z" fill="#f2e51b" fill-rule="evenodd" stroke="rgba(0,0,0,0.58)" stroke-width="0.42"/>
<path d="M194.5 435.4 191.3 435.7 188.0 434.6 185.3 432.0 183.8 428.6 183.9 425.4 185.3 422.2 188.1 419.7 191.3 418.4 193.7 418.5 196.5 420.3 198.6 423.0 199.8 426.2 199.9 429.0 198.9 431.9 196.9 434.1 194.5 435.4Z" fill="#fdc10e" fill-rule="evenodd" stroke="rgba(0,0,0,0.58)" stroke-width="0.42"/>
<path d="M193.7 433.4 191.3 433.5 188.9 432.7 187.0 431.0 185.8 428.6 185.7 425.8 186.7 423.4 188.5 421.6 190.9 420.5 193.3 420.5 195.3 421.4 197.1 423.4 198.2 425.8 198.3 428.2 197.5 430.6 196.1 432.2 193.7 433.4Z" fill="#f7971f" fill-rule="evenodd" stroke="rgba(0,0,0,0.58)" stroke-width="0.42"/>
<path d="M193.7 431.8 191.7 432.0 189.7 431.4 188.1 429.9 187.2 428.2 187.1 426.2 187.9 424.2 189.3 422.7 190.9 422.0 192.9 421.9 194.5 422.5 195.9 423.8 196.9 425.8 197.0 427.8 196.6 429.4 195.3 431.0 193.7 431.8Z" fill="#f26c23" fill-rule="evenodd" stroke="rgba(0,0,0,0.58)" stroke-width="0.42"/>
<path d="M193.3 430.6 190.5 430.3 188.6 428.2 188.7 425.4 189.5 424.2 190.9 423.3 193.7 423.4 194.9 424.3 195.7 425.8 195.6 428.6 194.7 429.8 193.3 430.6Z" fill="#ed4727" fill-rule="evenodd" stroke="rgba(0,0,0,0.58)" stroke-width="0.42"/>
<path d="M192.1 429.4 190.5 428.7 189.7 427.0 190.5 425.0 192.1 424.4 193.7 425.0 194.6 427.0 194.0 428.6 192.1 429.4Z" fill="#ec1d25" fill-rule="evenodd" stroke="rgba(0,0,0,0.58)" stroke-width="0.42"/>
<path d="M342.7 479.1 337.1 479.2 332.2 478.7 311.1 473.5 302.7 469.5 293.3 462.3 288.3 457.1 285.9 453.9 283.5 449.9 281.5 445.3 279.5 437.2 277.4 419.9 277.5 416.2 278.7 409.4 281.1 399.5 283.1 393.6 287.9 384.2 291.1 379.9 294.6 376.3 298.3 373.1 304.3 369.1 314.3 364.3 328.2 360.3 334.9 359.1 341.9 358.5 346.3 358.7 354.0 360.3 361.3 362.3 367.4 364.7 372.6 367.5 378.6 371.5 383.1 375.1 387.9 379.8 391.1 384.0 393.9 388.7 397.5 397.6 400.3 411.1 401.3 425.5 400.7 436.6 398.3 446.2 396.3 450.6 393.5 455.1 387.8 461.5 378.3 468.7 370.3 472.7 361.1 475.5 342.7 479.1Z" fill="#3a4a9e" fill-rule="evenodd" stroke="rgba(0,0,0,0.75)" stroke-width="0.6"/>
<path d="M339.5 475.9 335.5 476.0 331.7 475.5 312.4 469.9 304.3 465.2 294.3 457.3 287.9 449.7 284.3 442.7 282.3 433.9 281.0 423.9 280.8 418.7 282.5 405.5 285.5 395.1 290.1 385.9 293.0 381.9 296.3 378.5 300.5 375.1 305.5 371.8 317.1 366.3 331.1 362.7 337.5 361.7 343.1 361.5 347.5 362.0 355.9 363.9 366.7 367.9 371.9 370.9 377.2 374.7 381.9 378.7 385.9 382.9 391.1 390.7 394.3 399.1 396.9 414.3 397.6 426.3 396.4 436.7 393.5 445.9 389.1 453.6 383.1 459.9 375.9 465.1 368.7 468.5 361.9 470.6 351.1 472.8 339.5 475.9Z" fill="#3c52a8" fill-rule="evenodd" stroke="rgba(0,0,0,0.58)" stroke-width="0.42"/>
<path d="M338.3 471.9 334.3 472.2 330.3 471.5 314.1 466.3 306.3 461.8 296.7 453.9 291.1 447.2 287.8 440.7 285.7 431.1 284.8 419.1 286.2 405.5 288.4 397.1 292.8 387.9 298.3 381.3 306.7 375.4 318.7 369.8 332.3 366.2 343.1 365.3 354.3 367.4 363.9 371.1 375.1 378.3 379.9 382.4 383.6 386.3 387.4 391.9 389.7 398.3 392.4 417.1 392.7 425.1 391.5 434.7 388.6 443.9 384.8 450.7 379.9 456.0 373.5 460.6 366.3 463.9 358.7 466.5 338.3 471.9Z" fill="#3b74bb" fill-rule="evenodd" stroke="rgba(0,0,0,0.58)" stroke-width="0.42"/>
<path d="M336.3 469.5 333.1 469.6 329.1 468.9 315.5 463.7 306.7 458.2 297.5 450.4 292.8 444.3 290.0 437.9 287.8 425.9 287.6 417.9 288.6 405.9 290.5 398.3 294.9 389.5 300.4 383.1 308.3 377.6 319.1 372.8 332.7 369.3 342.7 368.5 353.1 370.5 361.9 374.1 373.9 381.6 377.9 385.1 381.3 388.7 384.3 393.5 386.1 399.1 389.0 418.7 389.2 426.7 387.9 435.1 385.1 443.5 381.9 449.1 377.2 453.9 370.7 458.1 361.5 462.2 336.3 469.5Z" fill="#38b3e7" fill-rule="evenodd" stroke="rgba(0,0,0,0.58)" stroke-width="0.42"/>
<path d="M334.3 467.1 330.7 466.9 326.7 465.8 315.4 460.3 303.5 452.0 297.1 445.4 294.9 441.9 293.3 438.3 291.0 428.7 290.2 421.1 290.9 407.9 292.5 400.3 295.9 392.8 300.0 387.1 305.6 382.3 313.1 378.1 322.7 374.6 335.1 371.7 343.1 371.3 351.9 373.2 360.0 376.7 372.2 384.3 376.0 387.5 378.8 390.7 381.1 394.7 382.5 399.5 385.4 420.3 385.5 428.3 384.2 435.9 381.8 442.7 378.7 447.7 374.3 451.9 367.9 455.8 358.7 460.0 345.5 463.4 337.9 466.3 334.3 467.1Z" fill="#6cc6d9" fill-rule="evenodd" stroke="rgba(0,0,0,0.58)" stroke-width="0.42"/>
<path d="M333.5 464.7 330.7 464.7 327.9 464.0 320.7 460.3 305.9 450.3 302.2 447.1 299.2 443.5 295.8 436.7 293.4 425.5 292.9 420.3 293.6 407.9 295.0 401.1 298.1 394.3 302.3 388.7 307.5 384.2 314.1 380.7 323.1 377.6 335.5 374.6 342.7 374.2 350.7 376.0 357.9 379.2 369.5 386.5 372.7 389.3 375.1 392.1 377.3 396.3 378.8 401.9 381.5 420.7 381.5 429.1 380.3 436.3 378.3 441.7 375.5 446.0 371.5 449.7 364.8 453.9 357.5 457.4 344.7 460.7 336.7 463.9 333.5 464.7Z" fill="#66c1b8" fill-rule="evenodd" stroke="rgba(0,0,0,0.58)" stroke-width="0.42"/>
<path d="M334.3 462.0 329.5 461.9 323.9 459.4 307.6 448.3 304.3 445.4 301.7 442.3 298.4 435.9 296.0 424.7 295.6 419.9 296.1 409.1 297.3 402.7 300.2 396.3 304.0 391.1 309.0 386.7 314.7 383.6 322.3 381.0 335.1 377.8 341.9 377.3 349.5 379.0 355.9 381.8 366.3 388.7 371.3 393.9 373.9 399.1 375.8 406.7 377.7 419.9 377.6 429.1 376.6 435.5 374.7 440.7 372.1 444.7 368.1 448.3 362.3 452.0 356.7 454.8 344.3 458.0 334.3 462.0Z" fill="#68bc90" fill-rule="evenodd" stroke="rgba(0,0,0,0.58)" stroke-width="0.42"/>
<path d="M334.3 459.5 329.9 459.6 325.1 457.5 309.2 446.3 304.1 441.1 301.0 435.1 298.5 424.3 298.1 419.5 298.6 410.3 299.7 404.3 302.0 398.7 305.7 393.5 310.3 389.4 315.5 386.6 323.1 384.0 334.7 381.0 341.1 380.6 348.3 382.1 354.1 384.7 363.2 391.1 367.9 396.0 370.9 401.9 372.9 409.5 374.2 419.5 374.1 428.3 373.2 434.3 371.6 439.1 369.1 443.1 365.4 446.7 361.1 449.6 356.3 452.0 343.9 455.4 334.3 459.5Z" fill="#69b54e" fill-rule="evenodd" stroke="rgba(0,0,0,0.58)" stroke-width="0.42"/>
<path d="M331.9 457.5 327.5 456.4 321.5 452.3 316.7 447.2 309.3 441.1 306.7 437.9 304.1 432.7 301.2 422.3 300.7 417.5 301.2 410.3 302.4 404.7 304.7 399.7 307.9 395.5 312.3 391.8 317.9 389.0 328.7 385.6 335.5 384.1 340.7 384.0 347.4 385.5 352.7 387.9 360.7 393.9 365.5 399.3 368.6 405.5 370.5 412.7 371.3 420.7 370.9 429.5 369.8 435.1 368.2 439.1 365.6 442.7 361.9 445.9 355.1 449.6 345.5 452.1 335.5 456.7 331.9 457.5Z" fill="#6ab64b" fill-rule="evenodd" stroke="rgba(0,0,0,0.58)" stroke-width="0.42"/>
<path d="M333.1 455.1 329.9 454.9 326.1 453.1 320.3 446.0 312.7 438.3 310.2 435.1 308.3 431.1 305.5 422.3 304.9 416.3 304.9 409.9 305.7 405.5 307.5 401.3 310.3 397.5 313.6 394.7 317.2 392.7 327.5 389.0 333.9 387.4 338.7 387.1 345.1 388.4 350.3 390.7 357.7 396.3 362.7 401.4 365.6 406.3 367.6 412.3 368.6 419.1 368.4 426.7 367.7 431.9 366.5 435.9 364.4 439.5 361.9 442.1 357.1 444.7 349.1 446.0 345.9 447.0 342.3 449.1 335.7 454.3 333.1 455.1Z" fill="#68b54a" fill-rule="evenodd" stroke="rgba(0,0,0,0.58)" stroke-width="0.42"/>
<path d="M332.3 451.9 329.9 451.6 327.4 449.9 315.5 436.7 312.9 433.1 311.4 429.9 309.2 422.3 309.1 412.7 309.8 408.7 311.3 405.5 313.5 402.5 316.3 400.0 320.7 397.5 329.9 393.3 333.9 392.1 337.5 391.9 342.7 393.0 347.1 395.2 356.2 403.1 360.7 407.7 363.0 411.5 364.4 415.5 365.2 420.3 365.1 425.9 363.5 433.5 361.9 436.4 359.9 438.5 356.7 440.1 350.3 440.4 347.1 441.5 342.7 444.3 335.9 450.3 332.3 451.9Z" fill="#6ab64a" fill-rule="evenodd" stroke="rgba(0,0,0,0.58)" stroke-width="0.42"/>
<path d="M333.1 447.9 330.7 447.9 328.3 446.5 321.4 439.5 316.3 433.1 314.5 429.5 312.6 423.1 312.2 416.3 312.8 412.7 313.8 409.9 315.5 407.4 317.9 405.0 322.3 402.1 328.7 398.8 333.1 397.1 336.3 396.7 339.9 397.4 343.6 399.1 346.8 401.5 351.1 405.9 359.8 416.7 361.2 420.7 361.5 425.5 360.5 430.3 358.3 433.7 356.3 434.8 346.8 437.5 335.9 446.4 333.1 447.9Z" fill="#8dbf3e" fill-rule="evenodd" stroke="rgba(0,0,0,0.58)" stroke-width="0.42"/>
<path d="M333.5 444.4 331.1 444.6 328.3 443.1 323.8 438.7 320.0 433.9 316.9 427.9 315.5 422.7 315.4 418.3 316.7 412.7 320.3 408.3 329.5 402.3 332.7 401.1 335.5 400.7 338.7 401.2 341.5 402.4 344.3 404.5 346.9 407.5 350.5 414.3 352.9 421.5 353.3 424.3 352.3 427.8 352.7 430.7 352.0 432.3 350.3 433.4 344.7 435.2 337.9 441.6 333.5 444.4Z" fill="#bccd2d" fill-rule="evenodd" stroke="rgba(0,0,0,0.58)" stroke-width="0.42"/>
<path d="M333.1 441.5 331.1 441.6 328.7 440.4 325.5 437.3 322.7 433.9 319.5 427.9 318.4 423.1 318.4 419.9 319.8 414.7 323.1 410.7 330.3 405.7 333.1 404.7 335.5 404.5 337.9 405.0 340.3 406.2 343.9 410.1 346.0 415.5 346.4 421.9 344.7 431.1 338.2 438.3 335.5 440.4 333.1 441.5Z" fill="#f2e51b" fill-rule="evenodd" stroke="rgba(0,0,0,0.58)" stroke-width="0.42"/>
<path d="M332.3 438.7 330.7 438.5 328.7 437.4 324.1 432.3 321.6 427.1 321.0 421.1 322.2 416.7 325.5 412.7 330.7 409.2 332.7 408.6 335.1 408.4 338.7 409.9 341.5 413.5 342.8 418.3 342.8 424.3 341.7 429.5 339.2 433.9 335.9 437.2 332.3 438.7Z" fill="#fdc10e" fill-rule="evenodd" stroke="rgba(0,0,0,0.58)" stroke-width="0.42"/>
<path d="M332.3 435.9 330.3 435.7 328.7 434.7 324.9 430.3 324.0 427.9 323.7 421.5 324.2 418.3 326.7 415.2 330.3 412.9 333.9 412.3 336.7 413.3 339.0 416.3 340.1 419.9 340.3 424.7 339.5 428.7 337.7 432.3 335.1 434.8 332.3 435.9Z" fill="#f7971f" fill-rule="evenodd" stroke="rgba(0,0,0,0.58)" stroke-width="0.42"/>
<path d="M333.5 433.1 331.1 433.4 328.7 432.3 326.6 429.9 326.0 426.7 326.0 422.7 327.1 419.3 329.2 416.3 331.5 415.5 333.9 415.8 335.9 417.2 337.3 419.5 338.0 422.7 338.0 426.3 337.2 429.1 335.5 431.7 333.5 433.1Z" fill="#f26c23" fill-rule="evenodd" stroke="rgba(0,0,0,0.58)" stroke-width="0.42"/>
<path d="M332.3 431.2 329.4 430.7 328.2 428.3 327.7 425.5 328.0 423.1 328.8 421.1 330.3 419.6 331.9 419.1 333.5 419.6 334.7 420.9 335.8 425.1 335.0 429.1 333.9 430.4 332.3 431.2Z" fill="#ed4727" fill-rule="evenodd" stroke="rgba(0,0,0,0.58)" stroke-width="0.42"/>
<path d="M331.9 427.6 330.7 427.3 330.0 425.5 330.4 423.9 331.5 423.2 332.3 423.6 332.9 425.1 332.7 426.7 331.9 427.6Z" fill="#ec1d25" fill-rule="evenodd" stroke="rgba(0,0,0,0.58)" stroke-width="0.42"/>
<path d="M69.45 152V300M84.79 152V300M100.14 152V300M115.48 152V300M130.83 152V300M146.18 152V300M161.52 152V300M176.87 152V300M192.21 152V300M207.56 152V300M222.91 152V300M238.25 152V300M253.60 152V300M268.94 152V300M284.29 152V300M299.64 152V300M54 292.96H315.5M54 285.53H315.5M54 278.09H315.5M54 270.66H315.5M54 263.22H315.5M54 255.79H315.5M54 248.35H315.5M54 240.92H315.5M54 233.48H315.5M54 226.05H315.5M54 218.61H315.5M54 211.18H315.5M54 203.74H315.5M54 196.31H315.5M54 188.88H315.5M54 181.44H315.5M54 174.00H315.5M54 166.57H315.5M54 159.13H315.5" stroke="#c6c6c6" stroke-width="0.85" fill="none"/>
<path d="M54.1 151.9H315.6V300.4" stroke="#000" stroke-width="1.3" fill="none"/>
<path d="M54.1 151.3V300.4H315.6" stroke="#404040" stroke-width="1.6" fill="none"/>
<path d="M49.9 300.40H54M49.9 263.22H54M49.9 226.05H54M49.9 188.88H54M49.9 151.70H54M54.10 300V303.8M130.83 300V303.8M207.56 300V303.8M284.29 300V303.8" stroke="#303030" stroke-width="1.3" fill="none"/>
<text x="43.6" y="304.90" text-anchor="end" font-size="12.5" font-weight="bold">0</text>
<text x="43.6" y="267.72" text-anchor="end" font-size="12.5" font-weight="bold">0.5</text>
<text x="43.6" y="230.55" text-anchor="end" font-size="12.5" font-weight="bold">1</text>
<text x="43.6" y="193.38" text-anchor="end" font-size="12.5" font-weight="bold">1.5</text>
<text x="43.6" y="156.20" text-anchor="end" font-size="12.5" font-weight="bold">2</text>
<text x="54.40" y="320" text-anchor="middle" font-size="11.5" font-weight="bold">3</text>
<text x="131.13" y="320" text-anchor="middle" font-size="11.5" font-weight="bold">4</text>
<text x="207.86" y="320" text-anchor="middle" font-size="11.5" font-weight="bold">5</text>
<text x="284.59" y="320" text-anchor="middle" font-size="11.5" font-weight="bold">6</text>
<polyline points="118.0,293.4 137.2,281.8 157.6,226.8 176.3,221.8 228.3,214" fill="none" stroke="#222" stroke-width="1.1" stroke-dasharray="1.3 1"/>
<polyline points="140.3,295.5 214.7,211.3 248.1,188.4 278.9,180.5 304.6,180.9" fill="none" stroke="#1a1a1a" stroke-width="1.3"/>
<circle cx="118.0" cy="293.4" r="3.2" fill="none" stroke="#111" stroke-width="1.3"/>
<circle cx="137.2" cy="281.8" r="3.2" fill="none" stroke="#111" stroke-width="1.3"/>
<circle cx="157.6" cy="226.8" r="3.2" fill="none" stroke="#111" stroke-width="1.3"/>
<circle cx="176.3" cy="221.8" r="3.2" fill="none" stroke="#111" stroke-width="1.3"/>
<circle cx="228.3" cy="214" r="3.2" fill="none" stroke="#111" stroke-width="1.3"/>
<rect x="137.3" y="292.5" width="6" height="6" fill="none" stroke="#111" stroke-width="1.3"/>
<rect x="211.7" y="208.3" width="6" height="6" fill="none" stroke="#111" stroke-width="1.3"/>
<rect x="245.1" y="185.4" width="6" height="6" fill="none" stroke="#111" stroke-width="1.3"/>
<rect x="275.9" y="177.5" width="6" height="6" fill="none" stroke="#111" stroke-width="1.3"/>
<rect x="301.6" y="177.9" width="6" height="6" fill="none" stroke="#111" stroke-width="1.3"/>
<rect x="56.6" y="155" width="68.2" height="31.4" fill="#fff" stroke="#111" stroke-width="1.4"/>
<path d="M59.2 163H75.4" stroke="#333" stroke-width="1.1" stroke-dasharray="1.3 1"/>
<circle cx="67.6" cy="163" r="3.1" fill="none" stroke="#111" stroke-width="1.1"/>
<path d="M59.9 179.1H75.6" stroke="#111" stroke-width="1.2"/>
<rect x="64.7" y="176.2" width="5.8" height="5.8" fill="none" stroke="#111" stroke-width="1.2"/>
<text x="77.2" y="167.3" font-size="12.4" font-weight="bold">YBCO</text>
<text x="77.2" y="183.2" font-size="12.4" font-weight="bold">GdBCO</text>
<text x="268.6" y="290" font-size="19" font-weight="bold" style="stroke-width:0.6px">40 K</text>
<text x="118" y="337.5" font-size="12" font-weight="bold" textLength="133" lengthAdjust="spacingAndGlyphs">Pulsed Field Amplitude [T]</text>
<text transform="translate(22 248.2) rotate(-90)" font-size="13" font-weight="bold">B<tspan font-size="8.2" dy="2.6">trap</tspan><tspan dy="-2.6"> [T]</tspan></text>
<rect x="344" y="137.90" width="27" height="11.29" fill="#3a4a9e"/>
<rect x="344" y="148.89" width="27" height="11.29" fill="#3c52a8"/>
<rect x="344" y="159.88" width="27" height="11.29" fill="#3b74bb"/>
<rect x="344" y="170.87" width="27" height="11.29" fill="#38b3e7"/>
<rect x="344" y="181.86" width="27" height="11.29" fill="#6cc6d9"/>
<rect x="344" y="192.85" width="27" height="11.29" fill="#66c1b8"/>
<rect x="344" y="203.84" width="27" height="11.29" fill="#68bc90"/>
<rect x="344" y="214.83" width="27" height="11.29" fill="#69b54e"/>
<rect x="344" y="225.82" width="27" height="11.29" fill="#6ab64b"/>
<rect x="344" y="236.81" width="27" height="11.29" fill="#68b54a"/>
<rect x="344" y="247.79" width="27" height="11.29" fill="#6ab64a"/>
<rect x="344" y="258.78" width="27" height="11.29" fill="#8dbf3e"/>
<rect x="344" y="269.77" width="27" height="11.29" fill="#bccd2d"/>
<rect x="344" y="280.76" width="27" height="11.29" fill="#f2e51b"/>
<rect x="344" y="291.75" width="27" height="11.29" fill="#fdc10e"/>
<rect x="344" y="302.74" width="27" height="11.29" fill="#f7971f"/>
<rect x="344" y="313.73" width="27" height="11.29" fill="#f26c23"/>
<rect x="344" y="324.72" width="27" height="11.29" fill="#ed4727"/>
<rect x="344" y="335.71" width="27" height="11.29" fill="#ec1d25"/>
<text x="374.7" y="143.00" font-size="10.4" font-weight="bold">0.0</text>
<text x="374.7" y="153.97" font-size="10.4" font-weight="bold">0.1</text>
<text x="374.7" y="164.94" font-size="10.4" font-weight="bold">0.2</text>
<text x="374.7" y="175.91" font-size="10.4" font-weight="bold">0.3</text>
<text x="374.7" y="186.88" font-size="10.4" font-weight="bold">0.4</text>
<text x="374.7" y="197.85" font-size="10.4" font-weight="bold">0.5</text>
<text x="374.7" y="208.82" font-size="10.4" font-weight="bold">0.6</text>
<text x="374.7" y="219.79" font-size="10.4" font-weight="bold">0.7</text>
<text x="374.7" y="230.76" font-size="10.4" font-weight="bold">0.8</text>
<text x="374.7" y="241.73" font-size="10.4" font-weight="bold">0.9</text>
<text x="374.7" y="252.70" font-size="10.4" font-weight="bold">1.0</text>
<text x="374.7" y="263.67" font-size="10.4" font-weight="bold">1.1</text>
<text x="374.7" y="274.64" font-size="10.4" font-weight="bold">1.2</text>
<text x="374.7" y="285.61" font-size="10.4" font-weight="bold">1.3</text>
<text x="374.7" y="296.58" font-size="10.4" font-weight="bold">1.4</text>
<text x="374.7" y="307.55" font-size="10.4" font-weight="bold">1.5</text>
<text x="374.7" y="318.52" font-size="10.4" font-weight="bold">1.6</text>
<text x="374.7" y="329.49" font-size="10.4" font-weight="bold">1.7</text>
<text x="374.7" y="340.46" font-size="10.4" font-weight="bold">1.8</text>
<text x="374.7" y="351.43" font-size="10.4" font-weight="bold">1.9</text>
<line x1="136.4" y1="135.6" x2="275.6" y2="170.6" stroke="#68ade0" stroke-width="1.5"/>
<line x1="274.4" y1="137.9" x2="303.7" y2="170.6" stroke="#68ade0" stroke-width="1.5"/>
<line x1="138.2" y1="301.6" x2="68.1" y2="357.4" stroke="#68ade0" stroke-width="1.5"/>
<line x1="214.9" y1="217.6" x2="202.6" y2="357.7" stroke="#68ade0" stroke-width="1.5"/>
<line x1="251.4" y1="196.7" x2="339.4" y2="356.2" stroke="#68ade0" stroke-width="1.5"/>
</svg>
</body></html>
